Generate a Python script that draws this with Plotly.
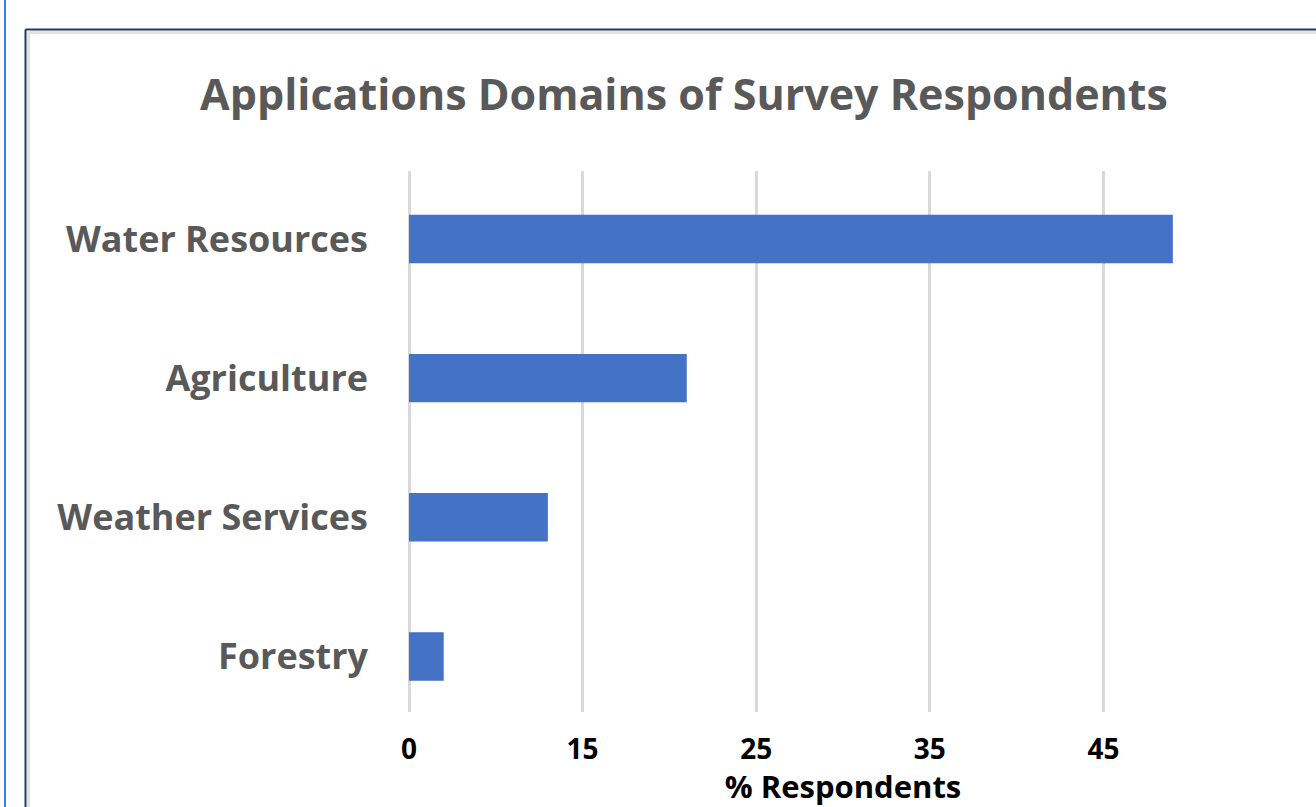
import plotly.graph_objects as go

# Survey data: share of respondents per application domain
domains = ["Water Resources", "Agriculture", "Weather Services", "Forestry"]
pct_respondents = [44, 16, 8, 2]

# Axis tick positions and the labels printed under them
tick_positions = [0, 10, 20, 30, 40, 50]
tick_labels = ["0", "15", "25", "35", "45", ""]

W, H = 1316, 807
PL, PR, PT, PB = 409, 1277, 171, 712  # plot area in pixels

FONT = "Open Sans"
BAR_COLOR = "#4472C4"
GRID_COLOR = "#D9D9D9"
GRAY_TEXT = "#595959"

fig = go.Figure(
    go.Bar(
        x=pct_respondents,
        y=domains,
        orientation="h",
        marker=dict(color=BAR_COLOR, line=dict(width=0)),
        width=0.348,
        hoverinfo="x+y",
    )
)


def px_x(p):
    return (p - PL) / (PR - PL)


def px_y(p):
    return (PB - p) / (PB - PT)


shapes = [
    # thin blue page edge on the far left
    dict(type="line", xref="paper", yref="paper",
         x0=px_x(5), x1=px_x(5), y0=px_y(-5), y1=px_y(812),
         line=dict(color="#2E86DE", width=2)),
    # outer chart frame (dark) with a soft inner shadow line
    dict(type="line", xref="paper", yref="paper",
         x0=px_x(28.5), x1=px_x(1320), y0=px_y(32.5), y1=px_y(32.5),
         line=dict(color="#E3E3E3", width=3)),
    dict(type="line", xref="paper", yref="paper",
         x0=px_x(28.5), x1=px_x(28.5), y0=px_y(32.5), y1=px_y(812),
         line=dict(color="#E3E3E3", width=3)),
    dict(type="line", xref="paper", yref="paper",
         x0=px_x(25.5), x1=px_x(1320), y0=px_y(29.5), y1=px_y(29.5),
         line=dict(color="#1F3864", width=2)),
    dict(type="line", xref="paper", yref="paper",
         x0=px_x(25.5), x1=px_x(25.5), y0=px_y(29.5), y1=px_y(812),
         line=dict(color="#1F3864", width=2)),
]

fig.update_layout(
    width=W,
    height=H,
    margin=dict(l=PL, r=W - PR, t=PT, b=H - PB, pad=0, autoexpand=False),
    paper_bgcolor="white",
    plot_bgcolor="white",
    showlegend=False,
    title=dict(
        text="<b>Applications Domains of Survey Respondents</b>",
        x=684 / W, xanchor="center",
        y=1 - 95 / H, yanchor="middle",
        xref="container", yref="container",
        font=dict(family=FONT, size=43, color=GRAY_TEXT),
    ),
    xaxis=dict(
        range=[0, 50],
        tickmode="array",
        tickvals=tick_positions,
        ticktext=tick_labels,
        showgrid=True,
        gridcolor=GRID_COLOR,
        gridwidth=3,
        zeroline=True,
        zerolinecolor=GRID_COLOR,
        zerolinewidth=3,
        showline=False,
        ticks="",
        ticklabelstandoff=18,
        tickfont=dict(family=FONT, size=28, color="black", weight="bold"),
        title=dict(
            text="<b>% Respondents</b>",
            standoff=22,
            font=dict(family=FONT, size=31, color="black"),
        ),
        automargin=False,
        fixedrange=True,
    ),
    yaxis=dict(
        type="category",
        categoryorder="array",
        categoryarray=domains,
        range=[3.399, -0.488],
        showgrid=False,
        zeroline=False,
        showline=False,
        ticks="",
        ticklabelstandoff=40,
        tickfont=dict(family=FONT, size=36, color=GRAY_TEXT, weight="bold"),
        automargin=False,
        fixedrange=True,
    ),
    shapes=shapes,
)

fig.write_html("out.html")
